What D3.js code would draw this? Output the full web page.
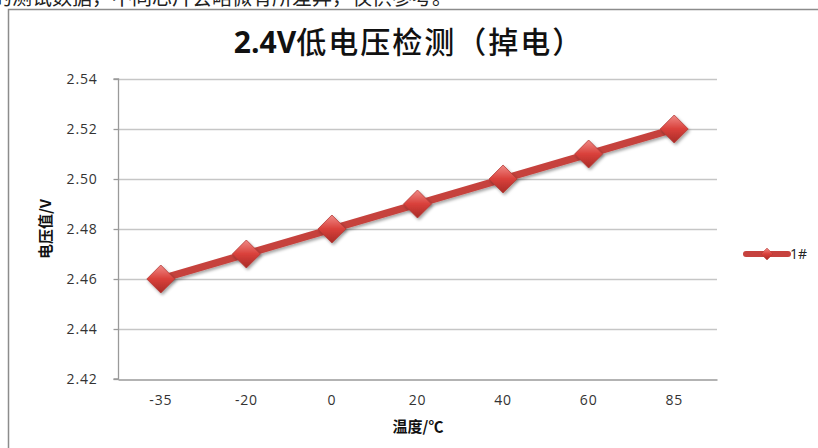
<!DOCTYPE html>
<html><head><meta charset="utf-8">
<script src="https://cdn.jsdelivr.net/npm/d3@7"></script>
<style>body{margin:0;background:#fff;}svg{display:block;}</style>
</head><body>
<script>
const categories = ["-35","-20","0","20","40","60","85"];
const values = [2.46, 2.47, 2.48, 2.49, 2.50, 2.51, 2.52];
const yTicks = [2.42, 2.44, 2.46, 2.48, 2.50, 2.52, 2.54];
const seriesName = "1#";
const titleA = "2.4V";
const titleB = "低电压检测（掉电）";
const xTitle = "温度/℃";
const yTitle = "电压值/V";
const topNote = "的测试数据，不同芯片会略微有所差异，仅供参考。";

const W = 818, H = 448;
const svg = d3.select("body").append("svg").attr("width", W).attr("height", H);
const defs = svg.append("defs");
const g1 = defs.append("linearGradient").attr("id","dg").attr("x1","0").attr("y1","0").attr("x2","0").attr("y2","1");
g1.append("stop").attr("offset","0%").attr("stop-color","#f08a86");
g1.append("stop").attr("offset","50%").attr("stop-color","#d9403b");
g1.append("stop").attr("offset","100%").attr("stop-color","#a82b27");
const f = defs.append("filter").attr("id","sh").attr("x","-50%").attr("y","-50%").attr("width","200%").attr("height","200%");
f.append("feDropShadow").attr("dx",1.5).attr("dy",2).attr("stdDeviation",1.5).attr("flood-color","#000").attr("flood-opacity",0.35);

// top note (cut by the page edge, as in the source)
svg.append("text").attr("x", -8).attr("y", 5).attr("font-family","Noto Sans CJK SC").attr("font-size",20).attr("fill","#222").text(topNote);

// chart frame
svg.append("rect").attr("x",8.5).attr("y",9.5).attr("width",W).attr("height",H).attr("fill","#fff").attr("stroke","#8c8c8c").attr("stroke-width",1.5);

const m = {l:118, r:717, t:79, b:379};
const x = d3.scaleBand().domain(categories).range([m.l, m.r]);
const y = d3.scaleLinear().domain([2.42, 2.54]).range([m.b, m.t]);

// gridlines
svg.append("g").selectAll("line").data(yTicks.slice(1)).join("line")
  .attr("x1", m.l).attr("x2", m.r).attr("y1", d=>Math.round(y(d))+0.5).attr("y2", d=>Math.round(y(d))+0.5)
  .attr("stroke","#c6c6c6").attr("stroke-width",1.3);

// y axis
const ya = svg.append("g").attr("transform",`translate(${m.l+0.5},0)`)
  .call(d3.axisLeft(y).tickValues(yTicks).tickFormat(d3.format(".2f")).tickSize(5).tickPadding(16));
ya.select(".domain").attr("stroke","#9a9a9a").attr("stroke-width",1.3).attr("d",`M-5,${m.t}H0V${m.b}H-5`);
ya.selectAll(".tick line").attr("stroke","#9a9a9a").attr("stroke-width",1.3);
ya.selectAll(".tick text").attr("font-family","Open Sans, sans-serif").attr("font-size",14).attr("fill","#333").attr("letter-spacing","0.8");

// x axis
const xa = svg.append("g").attr("transform",`translate(0,${m.b+0.5})`)
  .call(d3.axisBottom(x).tickSize(0).tickPadding(16));
xa.select(".domain").attr("stroke","#9a9a9a").attr("stroke-width",1.3);
xa.selectAll(".tick text").attr("font-family","Open Sans, sans-serif").attr("font-size",14).attr("fill","#333").attr("letter-spacing","0.8");

// line
const cx = d => x(d) + x.bandwidth()/2;
const line = d3.line().x((d,i)=>cx(categories[i])).y(d=>y(d));
svg.append("path").datum(values).attr("d", line).attr("fill","none")
  .attr("stroke","#c6423e").attr("stroke-width",7.5).attr("stroke-linecap","round").attr("filter","url(#sh)");

const diamond = "M0,-14L14,0L0,14L-14,0Z";
svg.append("g").selectAll("path").data(values).join("path")
  .attr("transform",(d,i)=>`translate(${cx(categories[i])},${y(d)})`)
  .attr("d", diamond).attr("fill","url(#dg)").attr("stroke","#b33a36").attr("stroke-width",0.8).attr("filter","url(#sh)");

// legend
const lgG = svg.append("g").attr("transform","translate(746,254)");
lgG.append("line").attr("x1",0).attr("x2",42).attr("y1",0).attr("y2",0).attr("stroke","#c6423e").attr("stroke-width",6).attr("stroke-linecap","round");
lgG.append("path").attr("transform","translate(21,0)").attr("d","M0,-6L6,0L0,6L-6,0Z").attr("fill","url(#dg)").attr("stroke","#b33a36").attr("stroke-width",0.5);
lgG.append("text").attr("x",44).attr("y",5).attr("font-family","Open Sans, sans-serif").attr("font-size",14).attr("fill","#222").text(seriesName);

// title
const t = svg.append("text").attr("x",409).attr("y",53).attr("text-anchor","middle")
  .attr("font-family","Open Sans, Noto Sans CJK SC, sans-serif").attr("font-size",30).attr("fill","#111");
t.append("tspan").attr("font-weight","bold").text(titleA);
t.append("tspan").attr("font-family","Noto Sans CJK SC").attr("font-weight","500").attr("letter-spacing","2").text(titleB);

svg.append("text").attr("x",418).attr("y",432).attr("text-anchor","middle")
  .attr("font-family","Noto Sans CJK SC").attr("font-weight","bold").attr("font-size",15).attr("fill","#111").text(xTitle);
svg.append("text").attr("transform","translate(51,229) rotate(-90)").attr("text-anchor","middle")
  .attr("font-family","Noto Sans CJK SC").attr("font-weight","bold").attr("font-size",15).attr("fill","#111").text(yTitle);
</script>
</body></html>
